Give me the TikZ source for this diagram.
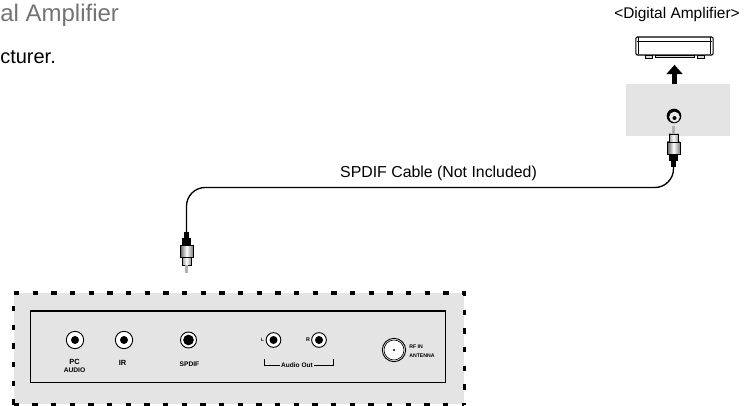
\documentclass[tikz,border=0pt]{standalone}
\usepackage{fontspec}
\setmainfont{Liberation Sans}
\usepackage{xcolor}
\usetikzlibrary{positioning, arrows.meta, calc}
\definecolor{panelgrey}{HTML}{E4E4E4}

\begin{document}
\begin{tikzpicture}[
    x=0.75pt, y=-0.75pt,
    panel/.style={rectangle, fill=panelgrey, inner sep=0pt, anchor=north west},
    jack/.style={circle, draw=black, fill=white, line width=0.7pt, inner sep=0pt, minimum size=13pt},
    jackcore/.style={circle, fill=black, inner sep=0pt, minimum size=6pt},
    tiny/.style={font=\bfseries\fontsize{5pt}{5pt}\selectfont, inner sep=0pt},
    dashline/.style={line width=2.3pt, dash pattern=on 4pt off 10pt},
    cable/.style={line width=1pt, draw=black, rounded corners=14pt},
    bigarrow/.style={-{Triangle[length=7pt, width=12pt]}, line width=4.4pt, draw=black, shorten >=7pt},
    plug/.pic={
        \fill [black] (-2.5,0) rectangle (2.5,9);
        \fill [black] (-4.5,6) rectangle (4.5,14);
        \draw [left color=black!65, right color=black!50, middle color=white, line width=0.6pt] (-6.5,13) rectangle (6.5,25);
        \draw [left color=black!40, right color=black!40, middle color=white, line width=0.6pt] (-4.5,25) rectangle (4.5,33);
        \fill [black!30] (-1.5,33) rectangle (1.5,41);
    }
]
    \useasboundingbox (0,0) rectangle (746,406);

    \node [anchor=west, inner sep=0pt, text=black!55, font=\fontsize{18pt}{20pt}\selectfont] (title) at (0,15) {al Amplifier};
    \node [anchor=west, inner sep=0pt, font=\fontsize{15pt}{17pt}\selectfont] (subtitle) at (0,57) {cturer.};
    \node [anchor=center, inner sep=0pt, font=\fontsize{11.6pt}{13pt}\selectfont] (amplabel) at (677,15) {<Digital Amplifier>};

    \node [panel, minimum width=78pt, minimum height=38.5pt] (optpanel) at (626,84) {};
    \node [rectangle, draw=black, fill=white, line width=0.8pt, minimum width=58pt, minimum height=13.5pt, inner sep=0pt, rounded corners=1pt] (amp) at (674.5,46) {};
    \draw [line width=0.5pt] (638.5,37.5) -- (638.5,54) (710.5,37.5) -- (710.5,54) (637,41) -- (712,41);
    \draw [line width=0.6pt, fill=black!15] (645,55) rectangle (652,58) (655,55) rectangle (694,57) (697,55) rectangle (704,58);
    \draw [bigarrow] (amp.south |- optpanel.north) -- (amp.south);

    \node [circle, fill=black, inner sep=0pt, minimum size=11pt] (optjack) at (674,116) {};
    \node [circle, fill=black!8, inner sep=0pt, minimum size=8pt] (optring) at (674.5,117) {};
    \node [circle, fill=black, inner sep=0pt, minimum size=3pt] (optcore) at (674.5,118) {};

    \node [panel, minimum width=337.5pt, minimum height=83.25pt] (backpanel) at (13.5,293) {};
    \draw [dashline] (backpanel.south west) -- (backpanel.north west) -- (backpanel.north east) -- (backpanel.south east);
    \draw [dashline] (backpanel.south west) -- (backpanel.south east);

    \node [panel, draw=black, line width=0.8pt, minimum width=311.5pt, minimum height=53pt] (inner) at (30,311) {};
    \draw [line width=1.5pt] (inner.north west) -- (inner.north east);

    \node [jack] (pcjack) at (75,340) {};
    \node [jackcore] at (pcjack) {};
    \node [jack] (irjack) at (124,340) {};
    \node [jackcore] at (irjack) {};
    \node [jack, minimum size=12pt] (spdifjack) at (188.5,340) {};
    \node [jackcore, minimum size=8pt] at (spdifjack) {};
    \node [jack, minimum size=11pt] (ljack) at (273.5,340) {};
    \node [jackcore] at (ljack) {};
    \node [jack, minimum size=11pt] (rjack) at (319,340) {};
    \node [jackcore] at (rjack) {};
    \node [jack, minimum size=17.5pt] (rfjack) at (394,350) {};
    \node [circle, draw=black, line width=0.5pt, inner sep=0pt, minimum size=15pt] at (rfjack) {};
    \node [circle, fill=black, inner sep=0pt, minimum size=1.6pt] at (rfjack) {};

    \node [tiny, font=\bfseries\fontsize{5.6pt}{6pt}\selectfont] (pclabel) at (74.5,362) {PC};
    \node [tiny] (audiolabel) at (74.5,370) {AUDIO};
    \node [tiny, font=\bfseries\fontsize{5.6pt}{6pt}\selectfont] (irlabel) at (122.5,362.5) {IR};
    \node [tiny] (spdiflabel) at (189.5,364) {SPDIF};
    \node [tiny, font=\bfseries\fontsize{3.5pt}{4pt}\selectfont] (llabel) at (262.5,340) {L};
    \node [tiny, font=\bfseries\fontsize{4pt}{4pt}\selectfont] (rlabel) at (308,339.5) {R};
    \node [tiny, font=\bfseries\fontsize{4.9pt}{6pt}\selectfont, fill=panelgrey, inner xsep=0.5pt] (audioout) at (297,365) {Audio Out};
    \draw [line width=0.5pt] (264,359) |- (audioout.west) (333.5,359) |- (audioout.east);
    \node [tiny, anchor=west, font=\bfseries\fontsize{3.9pt}{5pt}\selectfont] (rfin) at (409,347) {RF IN};
    \node [tiny, anchor=west, font=\bfseries\fontsize{3.9pt}{5pt}\selectfont] (antenna) at (409,355.5) {ANTENNA};

    \coordinate (cableleft) at (186.5,232);
    \coordinate (cableright) at (673.5,167);
    \coordinate (cabletop) at (430,187.5);
    \pic at (cableleft) {plug};
    \pic [yscale=-1] at (cableright) {plug};
    \draw [cable] (cableleft) |- (cabletop) -| (cableright);
    \node [inner sep=0pt, font=\fontsize{11.9pt}{13pt}\selectfont] (cablelabel) at (438.5,173) {SPDIF Cable (Not Included)};
\end{tikzpicture}
\end{document}
